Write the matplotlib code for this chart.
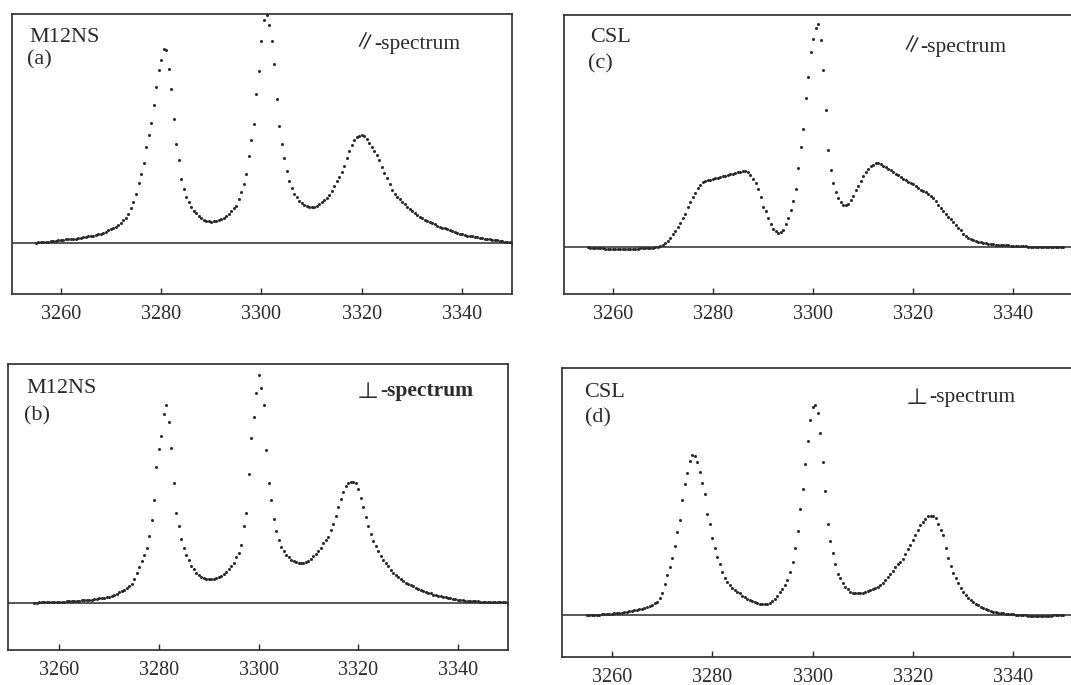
import numpy as np
import matplotlib
matplotlib.use("Agg")
import matplotlib.pyplot as plt

# ---------------- data (magnetic field in G, intensity in arbitrary units) ----------------
field = np.arange(3255.0, 3350.01, 0.5)   # sampling grid of the recorded spectra
tick_values = [3260, 3280, 3300, 3320, 3340]

# (a) M12NS, parallel spectrum
int_a = [
    0.000, 0.001, 0.002, 0.003, 0.004, 0.005, 0.006, 0.007, 0.008, 0.010,
    0.012, 0.013, 0.014, 0.015, 0.016, 0.017, 0.018, 0.020, 0.021, 0.023,
    0.025, 0.027, 0.029, 0.031, 0.034, 0.037, 0.040, 0.044, 0.048, 0.054,
    0.059, 0.064, 0.070, 0.078, 0.087, 0.097, 0.110, 0.127, 0.150, 0.178,
    0.215, 0.260, 0.300, 0.350, 0.420, 0.470, 0.525, 0.600, 0.680, 0.755,
    0.800, 0.845, 0.843, 0.760, 0.670, 0.540, 0.431, 0.360, 0.280, 0.235,
    0.198, 0.178, 0.155, 0.140, 0.128, 0.117, 0.108, 0.101, 0.096, 0.093,
    0.092, 0.093, 0.095, 0.098, 0.103, 0.110, 0.117, 0.126, 0.138, 0.150,
    0.162, 0.190, 0.220, 0.255, 0.300, 0.380, 0.450, 0.520, 0.650, 0.750,
    0.880, 0.975, 0.995, 0.950, 0.880, 0.780, 0.630, 0.510, 0.430, 0.370,
    0.315, 0.270, 0.240, 0.215, 0.198, 0.183, 0.173, 0.166, 0.160, 0.157,
    0.157, 0.158, 0.162, 0.167, 0.176, 0.186, 0.197, 0.210, 0.228, 0.248,
    0.268, 0.289, 0.310, 0.335, 0.369, 0.400, 0.428, 0.448, 0.460, 0.467,
    0.471, 0.465, 0.452, 0.436, 0.420, 0.400, 0.383, 0.360, 0.330, 0.305,
    0.281, 0.255, 0.230, 0.212, 0.200, 0.190, 0.178, 0.168, 0.158, 0.149,
    0.140, 0.131, 0.121, 0.113, 0.106, 0.100, 0.095, 0.089, 0.085, 0.080,
    0.075, 0.070, 0.066, 0.062, 0.058, 0.054, 0.051, 0.046, 0.042, 0.039,
    0.036, 0.034, 0.031, 0.029, 0.027, 0.025, 0.023, 0.021, 0.019, 0.017,
    0.015, 0.014, 0.013, 0.012, 0.011, 0.009, 0.007, 0.005, 0.003, 0.001,
    0.000,
]

# (b) M12NS, perpendicular spectrum
int_b = [
    0.000, 0.000, 0.001, 0.001, 0.001, 0.002, 0.002, 0.002, 0.003, 0.003,
    0.003, 0.004, 0.004, 0.005, 0.006, 0.007, 0.008, 0.008, 0.009, 0.010,
    0.010, 0.011, 0.012, 0.013, 0.014, 0.016, 0.018, 0.019, 0.021, 0.023,
    0.025, 0.028, 0.032, 0.037, 0.043, 0.047, 0.052, 0.060, 0.068, 0.080,
    0.100, 0.125, 0.151, 0.175, 0.200, 0.230, 0.280, 0.347, 0.430, 0.568,
    0.643, 0.700, 0.790, 0.830, 0.760, 0.650, 0.500, 0.378, 0.320, 0.265,
    0.230, 0.200, 0.178, 0.155, 0.140, 0.125, 0.116, 0.108, 0.102, 0.100,
    0.099, 0.098, 0.100, 0.103, 0.107, 0.113, 0.120, 0.128, 0.140, 0.152,
    0.165, 0.190, 0.210, 0.240, 0.320, 0.378, 0.540, 0.690, 0.780, 0.880,
    0.955, 0.900, 0.830, 0.640, 0.500, 0.430, 0.350, 0.300, 0.262, 0.232,
    0.215, 0.202, 0.190, 0.180, 0.175, 0.170, 0.167, 0.165, 0.167, 0.171,
    0.176, 0.185, 0.195, 0.203, 0.215, 0.228, 0.249, 0.262, 0.277, 0.305,
    0.330, 0.365, 0.400, 0.435, 0.466, 0.488, 0.500, 0.508, 0.505, 0.500,
    0.475, 0.440, 0.400, 0.360, 0.320, 0.290, 0.260, 0.239, 0.215, 0.195,
    0.180, 0.168, 0.152, 0.138, 0.123, 0.114, 0.106, 0.098, 0.090, 0.084,
    0.078, 0.073, 0.068, 0.063, 0.058, 0.053, 0.049, 0.046, 0.042, 0.039,
    0.034, 0.031, 0.029, 0.026, 0.024, 0.022, 0.020, 0.018, 0.016, 0.014,
    0.013, 0.011, 0.010, 0.009, 0.008, 0.007, 0.006, 0.005, 0.005, 0.004,
    0.004, 0.003, 0.003, 0.002, 0.002, 0.002, 0.001, 0.001, 0.001, 0.001,
    0.000,
]

# (c) CSL, parallel spectrum
int_c = [
    0.000, -0.002, -0.003, -0.004, -0.005, -0.005, -0.005, -0.006, -0.006, -0.006,
    -0.006, -0.006, -0.006, -0.006, -0.006, -0.006, -0.006, -0.006, -0.006, -0.006,
    -0.006, -0.005, -0.005, -0.004, -0.004, -0.002, -0.001, 0.001, 0.003, 0.005,
    0.010, 0.018, 0.028, 0.040, 0.055, 0.070, 0.088, 0.105, 0.125, 0.145,
    0.175, 0.195, 0.215, 0.235, 0.255, 0.268, 0.279, 0.283, 0.287, 0.290,
    0.293, 0.296, 0.299, 0.302, 0.305, 0.308, 0.311, 0.313, 0.316, 0.319,
    0.322, 0.325, 0.327, 0.328, 0.322, 0.312, 0.295, 0.278, 0.250, 0.218,
    0.175, 0.155, 0.125, 0.100, 0.080, 0.068, 0.060, 0.064, 0.076, 0.100,
    0.125, 0.160, 0.200, 0.250, 0.340, 0.430, 0.510, 0.640, 0.730, 0.840,
    0.895, 0.943, 0.960, 0.890, 0.760, 0.590, 0.420, 0.330, 0.275, 0.238,
    0.210, 0.193, 0.182, 0.182, 0.188, 0.203, 0.222, 0.245, 0.265, 0.286,
    0.306, 0.325, 0.338, 0.349, 0.355, 0.360, 0.361, 0.357, 0.350, 0.345,
    0.338, 0.330, 0.322, 0.315, 0.309, 0.301, 0.294, 0.287, 0.282, 0.276,
    0.270, 0.262, 0.255, 0.248, 0.242, 0.238, 0.230, 0.220, 0.212, 0.200,
    0.180, 0.170, 0.158, 0.145, 0.132, 0.120, 0.108, 0.096, 0.085, 0.074,
    0.055, 0.048, 0.042, 0.036, 0.030, 0.027, 0.024, 0.021, 0.019, 0.017,
    0.016, 0.014, 0.013, 0.012, 0.011, 0.010, 0.009, 0.008, 0.008, 0.007,
    0.006, 0.006, 0.005, 0.005, 0.004, 0.004, 0.003, 0.003, 0.002, 0.002,
    0.001, 0.001, 0.001, 0.000, 0.000, 0.000, 0.000, 0.000, 0.000, 0.000,
    0.000,
]

# (d) CSL, perpendicular spectrum
int_d = [
    0.000, 0.000, 0.001, 0.001, 0.002, 0.002, 0.003, 0.003, 0.004, 0.005,
    0.006, 0.007, 0.008, 0.009, 0.010, 0.011, 0.013, 0.015, 0.017, 0.019,
    0.021, 0.023, 0.026, 0.029, 0.033, 0.037, 0.042, 0.048, 0.054, 0.070,
    0.090, 0.125, 0.160, 0.195, 0.230, 0.280, 0.335, 0.385, 0.465, 0.530,
    0.575, 0.624, 0.648, 0.645, 0.620, 0.578, 0.535, 0.490, 0.410, 0.370,
    0.310, 0.270, 0.235, 0.205, 0.172, 0.150, 0.135, 0.122, 0.110, 0.102,
    0.095, 0.088, 0.077, 0.071, 0.066, 0.062, 0.057, 0.052, 0.049, 0.046,
    0.044, 0.043, 0.046, 0.050, 0.057, 0.065, 0.078, 0.092, 0.105, 0.120,
    0.140, 0.175, 0.215, 0.270, 0.340, 0.430, 0.510, 0.610, 0.704, 0.790,
    0.840, 0.850, 0.815, 0.734, 0.620, 0.500, 0.370, 0.300, 0.249, 0.205,
    0.165, 0.148, 0.130, 0.115, 0.104, 0.094, 0.091, 0.089, 0.088, 0.088,
    0.090, 0.093, 0.096, 0.100, 0.104, 0.108, 0.115, 0.122, 0.130, 0.140,
    0.153, 0.165, 0.180, 0.193, 0.205, 0.215, 0.226, 0.245, 0.265, 0.283,
    0.305, 0.325, 0.345, 0.362, 0.378, 0.390, 0.399, 0.402, 0.400, 0.392,
    0.370, 0.345, 0.325, 0.270, 0.230, 0.197, 0.170, 0.148, 0.128, 0.110,
    0.095, 0.079, 0.070, 0.060, 0.053, 0.045, 0.039, 0.033, 0.027, 0.023,
    0.019, 0.016, 0.014, 0.012, 0.010, 0.008, 0.007, 0.006, 0.005, 0.004,
    0.003, 0.002, 0.001, 0.000, -0.001, -0.001, -0.002, -0.002, -0.002, -0.003,
    -0.003, -0.003, -0.003, -0.002, -0.002, -0.002, -0.001, -0.001, -0.001, 0.000,
    0.000,
]

samples = ["M12NS", "M12NS", "CSL", "CSL"]
panel_tags = ["(a)", "(b)", "(c)", "(d)"]
spectrum_symbols = ["\u2225", "\u22a5", "\u2225", "\u22a5"]
spectrum_word = "-spectrum"

# ---------------- layout ----------------
W, H = 1071, 685
plt.rcParams['font.family'] = ['Liberation Serif', 'DejaVu Serif', 'DejaVu Sans']
ink = '#2b2b2b'

fig = plt.figure(figsize=(W / 100, H / 100), dpi=100)
fig.patch.set_facecolor('white')


def box(x0, y0, x1, y1):
    """pixel box (from top-left) -> figure fraction rect"""
    return [x0 / W, 1 - y1 / H, (x1 - x0) / W, (y1 - y0) / H]


def fpos(x, y):
    return x / W, 1 - y / H


# per panel: axes pixel box, xlim, ylim, text positions
panels = [
    dict(data=int_a, rect=box(12.3, 14, 512.3, 294), xlim=(3250.36, 3349.96), ylim=(-0.2245, 1.0),
         name_xy=(29, 42), tag_xy=(27, 64), sym_xy=(353, 49), word_xy=(374, 49), right=True),
    dict(data=int_b, rect=box(8.3, 364.3, 508.3, 650), xlim=(3249.76, 3350.1), ylim=(-0.1986, 1.0),
         name_xy=(26, 393), tag_xy=(24, 420), sym_xy=(357, 399), word_xy=(380, 396), right=True),
    dict(data=int_c, rect=box(564, 14.5, 1071, 294), xlim=(3250.26, 3351.5), ylim=(-0.2006, 1.0),
         name_xy=(590, 42), tag_xy=(588, 68), sym_xy=(900, 52), word_xy=(920, 52), right=False),
    dict(data=int_d, rect=box(561.7, 367.7, 1071, 656.7), xlim=(3250.0, 3351.5), ylim=(-0.1685, 1.0),
         name_xy=(584, 397), tag_xy=(585, 422), sym_xy=(906, 405), word_xy=(929, 402), right=False),
]

for i, p in enumerate(panels):
    ax = fig.add_axes(p['rect'])
    ax.plot(field, p['data'], linestyle='none', marker='o', ms=2.2,
            mfc=ink, mec='none')
    ax.axhline(0, color=ink, lw=1.1)
    ax.set_xlim(*p['xlim'])
    ax.set_ylim(*p['ylim'])
    ax.set_xticks(tick_values)
    ax.set_xticklabels([str(t) for t in tick_values])
    ax.set_yticks([])
    ax.tick_params(axis='x', direction='in', length=4, width=1.0, color=ink,
                   labelsize=14.5, labelcolor=ink, pad=8)
    for s in ax.spines.values():
        s.set_color(ink)
        s.set_linewidth(1.2)
    if not p['right']:
        ax.spines['right'].set_visible(False)

    fig.text(*fpos(*p['name_xy']), samples[i], fontsize=16, color=ink, ha='left', va='baseline')
    fig.text(*fpos(*p['tag_xy']), panel_tags[i], fontsize=16, color=ink, ha='left', va='baseline')
    fig.text(*fpos(*p['sym_xy']), spectrum_symbols[i], fontsize=16, color=ink,
             ha='left', va='baseline', family=['Noto Sans CJK JP', 'DejaVu Sans'])
    weight = 'semibold' if i == 1 else 'normal'
    fig.text(*fpos(*p['word_xy']), spectrum_word, fontsize=15.5, color=ink,
             ha='left', va='baseline', weight=weight)

fig.savefig('out.png', dpi=100, facecolor='white')
